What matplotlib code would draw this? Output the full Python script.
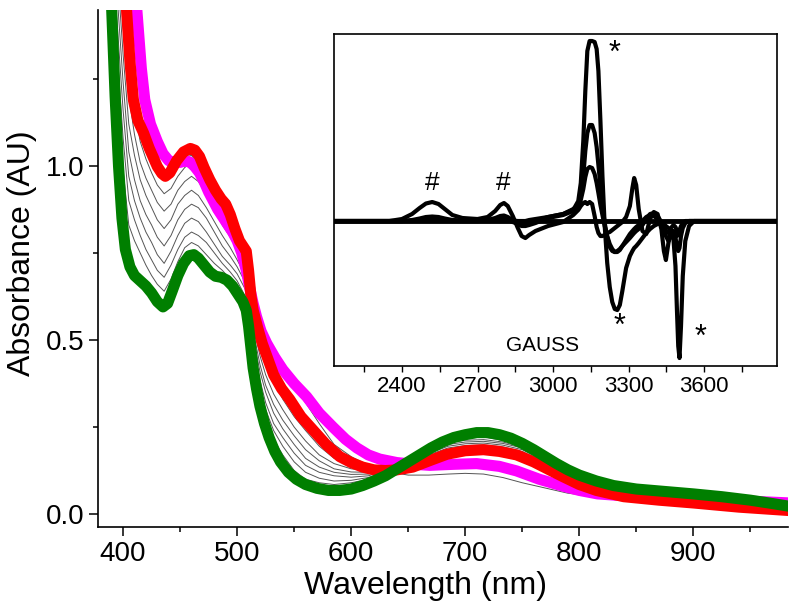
import numpy as np
import matplotlib.pyplot as plt
from matplotlib.ticker import MultipleLocator

plt.rcParams['font.family'] = ['Liberation Sans', 'DejaVu Sans']

# UV-vis spectra (nm, absorbance)
wl_mag = [405, 409, 412, 416, 419, 424, 430, 435, 440, 445, 450, 455, 459, 463, 467, 471, 475, 479, 483, 487,
          491, 496, 500, 504, 508, 511, 514, 517, 521, 526, 533, 540, 550, 561, 572, 584, 595, 605, 615, 625,
          640, 655, 669, 690, 710, 730, 745, 765, 786, 800, 816, 850, 900, 950, 985]
mag = [1.75, 1.55, 1.45, 1.28, 1.19, 1.12, 1.07, 1.035, 1.015, 1.01, 1.01, 1.015, 1.01, 0.997, 0.98, 0.955, 0.925, 0.9, 0.875, 0.855,
       0.835, 0.81, 0.785, 0.75, 0.70, 0.65, 0.605, 0.567, 0.525, 0.49, 0.45, 0.415, 0.375, 0.337, 0.29, 0.25, 0.215, 0.19, 0.17, 0.158,
       0.148, 0.143, 0.14, 0.143, 0.145, 0.137, 0.124, 0.10, 0.08, 0.068, 0.058, 0.05, 0.045, 0.037, 0.032]

wl_red = [395, 399, 403, 406, 409, 413, 418, 423, 430, 434, 437, 441, 447, 453, 459, 463, 467, 471, 476, 481,
          486, 490, 494, 498, 502, 506, 508, 510, 512, 514, 518, 522, 527, 532, 539, 546, 556, 567, 578, 590,
          600, 610, 620, 630, 640, 654, 670, 684, 700, 716, 730, 745, 760, 775, 786, 800, 815, 839, 870, 900, 940, 985]
red = [1.8, 1.6, 1.45, 1.3, 1.19, 1.13, 1.094, 1.05, 0.998, 0.978, 0.97, 0.98, 1.015, 1.04, 1.05, 1.045, 1.027, 0.995, 0.96, 0.93,
       0.905, 0.89, 0.86, 0.82, 0.785, 0.765, 0.755, 0.70, 0.63, 0.586, 0.535, 0.49, 0.445, 0.40, 0.36, 0.33, 0.28, 0.24, 0.20, 0.165,
       0.148, 0.135, 0.127, 0.125, 0.127, 0.135, 0.155, 0.172, 0.182, 0.185, 0.18, 0.17, 0.15, 0.125, 0.107, 0.085, 0.068, 0.05, 0.04, 0.032, 0.02, 0.01]

wl_grn = [385, 388, 390, 393, 396, 399, 402, 406, 410, 415, 420, 425, 430, 435, 439, 443, 448, 453, 458, 462,
          466, 471, 476, 481, 486, 491, 496, 501, 505, 508, 510, 512, 514, 517, 520, 524, 528, 533, 538, 545,
          552, 560, 570, 580, 590, 600, 610, 620, 630, 640, 650, 660, 670, 680, 690, 700, 710, 720, 730, 740,
          750, 760, 770, 780, 790, 800, 815, 830, 850, 875, 900, 925, 950, 970, 985]
grn = [1.8, 1.6, 1.45, 1.2, 1.0, 0.85, 0.76, 0.71, 0.685, 0.67, 0.655, 0.635, 0.61, 0.595, 0.605, 0.64, 0.685, 0.72, 0.742, 0.745,
       0.735, 0.715, 0.695, 0.683, 0.68, 0.672, 0.655, 0.63, 0.61, 0.585, 0.54, 0.48, 0.42, 0.36, 0.31, 0.26, 0.22, 0.18, 0.15, 0.12,
       0.10, 0.085, 0.074, 0.068, 0.068, 0.072, 0.082, 0.095, 0.11, 0.13, 0.15, 0.17, 0.19, 0.207, 0.22, 0.228, 0.234, 0.234, 0.228, 0.218,
       0.203, 0.185, 0.165, 0.145, 0.127, 0.112, 0.095, 0.082, 0.072, 0.065, 0.058, 0.05, 0.04, 0.03, 0.022]

# intermediate spectra (thin grey)
wl_mid = [385, 395, 400, 405, 410, 415, 420, 425, 430, 436, 442, 448, 454, 460, 466, 473, 480, 487, 494, 500,
          504, 508, 511, 515, 520, 525, 532, 540, 550, 560, 572, 585, 600, 615, 632, 650, 668, 685, 700, 716,
          733, 750, 770, 790, 815, 840, 900, 985]
mid0 = [1.9, 1.78, 1.58, 1.38, 1.25, 1.15, 1.09, 1.05, 1.01, 0.985, 0.99, 1.01, 1.025, 1.03, 1.005, 0.96, 0.915, 0.87, 0.83, 0.79,
        0.765, 0.74, 0.68, 0.60, 0.545, 0.50, 0.455, 0.41, 0.365, 0.32, 0.26, 0.20, 0.165, 0.14, 0.122, 0.112, 0.112, 0.115, 0.117, 0.115,
        0.105, 0.09, 0.075, 0.06, 0.05, 0.04, 0.03, 0.01]
mid1 = [1.9, 1.70, 1.48, 1.28, 1.16, 1.07, 1.02, 0.98, 0.945, 0.92, 0.935, 0.97, 0.995, 1.01, 0.99, 0.95, 0.905, 0.86, 0.82, 0.78,
        0.75, 0.72, 0.65, 0.55, 0.48, 0.43, 0.38, 0.33, 0.28, 0.24, 0.195, 0.16, 0.14, 0.13, 0.13, 0.14, 0.16, 0.178, 0.184, 0.186,
        0.18, 0.168, 0.138, 0.105, 0.072, 0.052, 0.038, 0.015]
mid2 = [1.9, 1.64, 1.40, 1.20, 1.09, 1.01, 0.965, 0.93, 0.895, 0.87, 0.89, 0.93, 0.955, 0.97, 0.955, 0.92, 0.875, 0.83, 0.795, 0.76,
        0.73, 0.70, 0.62, 0.53, 0.455, 0.40, 0.345, 0.30, 0.25, 0.21, 0.17, 0.145, 0.13, 0.125, 0.132, 0.145, 0.167, 0.185, 0.19, 0.192,
        0.186, 0.174, 0.143, 0.11, 0.075, 0.054, 0.04, 0.015]
mid3 = [1.85, 1.56, 1.32, 1.12, 1.03, 0.96, 0.915, 0.88, 0.845, 0.82, 0.845, 0.89, 0.915, 0.93, 0.915, 0.88, 0.84, 0.80, 0.765, 0.73,
        0.705, 0.68, 0.60, 0.51, 0.43, 0.37, 0.315, 0.27, 0.225, 0.185, 0.153, 0.13, 0.121, 0.12, 0.13, 0.146, 0.17, 0.19, 0.197, 0.199,
        0.193, 0.18, 0.146, 0.112, 0.078, 0.056, 0.04, 0.015]
mid4 = [1.85, 1.48, 1.24, 1.04, 0.96, 0.90, 0.86, 0.83, 0.795, 0.77, 0.80, 0.845, 0.875, 0.89, 0.88, 0.85, 0.81, 0.77, 0.74, 0.71,
        0.685, 0.66, 0.58, 0.49, 0.41, 0.35, 0.29, 0.245, 0.20, 0.16, 0.135, 0.12, 0.114, 0.115, 0.128, 0.15, 0.174, 0.195, 0.202, 0.204,
        0.198, 0.185, 0.15, 0.115, 0.08, 0.058, 0.042, 0.015]
mid5 = [1.8, 1.40, 1.16, 0.97, 0.90, 0.85, 0.81, 0.78, 0.745, 0.72, 0.755, 0.80, 0.835, 0.85, 0.84, 0.81, 0.775, 0.74, 0.715, 0.69,
        0.665, 0.64, 0.56, 0.47, 0.385, 0.32, 0.26, 0.22, 0.175, 0.14, 0.12, 0.11, 0.106, 0.11, 0.126, 0.15, 0.177, 0.20, 0.207, 0.209,
        0.203, 0.19, 0.155, 0.12, 0.083, 0.06, 0.044, 0.015]
mid6 = [1.8, 1.32, 1.08, 0.90, 0.845, 0.80, 0.76, 0.73, 0.70, 0.68, 0.715, 0.76, 0.795, 0.81, 0.80, 0.78, 0.75, 0.72, 0.695, 0.67,
        0.645, 0.62, 0.54, 0.45, 0.365, 0.30, 0.24, 0.195, 0.15, 0.12, 0.103, 0.095, 0.097, 0.105, 0.124, 0.15, 0.18, 0.205, 0.212, 0.214,
        0.207, 0.193, 0.158, 0.122, 0.086, 0.063, 0.045, 0.015]
mid7 = [1.75, 1.22, 0.99, 0.83, 0.785, 0.75, 0.715, 0.685, 0.66, 0.64, 0.675, 0.725, 0.765, 0.78, 0.77, 0.745, 0.72, 0.70, 0.675, 0.65,
        0.625, 0.60, 0.52, 0.435, 0.345, 0.28, 0.215, 0.17, 0.125, 0.10, 0.09, 0.085, 0.09, 0.10, 0.124, 0.155, 0.185, 0.21, 0.218, 0.221,
        0.212, 0.196, 0.162, 0.126, 0.088, 0.066, 0.047, 0.016]
mids = [mid0, mid1, mid2, mid3, mid4, mid5, mid6, mid7]

# EPR inset (gauss, arbitrary units)
field = [2130, 2350, 2400, 2440, 2470, 2495, 2520, 2545, 2570, 2600, 2640, 2700, 2740, 2770, 2790, 2805, 2820, 2840, 2860, 2875,
         2890, 2905, 2930, 2980, 3040, 3080, 3100, 3110, 3120, 3128, 3136, 3145, 3155, 3165, 3173, 3180, 3188, 3196, 3205, 3215,
         3225, 3235, 3245, 3255, 3265, 3275, 3290, 3305, 3315, 3322, 3330, 3340, 3355, 3370, 3385, 3400, 3415, 3430, 3440, 3448,
         3458, 3468, 3478, 3486, 3492, 3497, 3502, 3508, 3515, 3525, 3540, 3560, 3600, 3900]
epr_a = [0, 0, 0, 0.005, 0.01, 0.015, 0.02, 0.015, 0.01, 0.005, 0, 0, 0.005, 0.01, 0.02, 0.02, 0.015, 0.005, 0, 0,
         0, 0.01, 0.02, 0.04, 0.07, 0.11, 0.2, 0.38, 0.8, 1.3, 1.7, 1.80, 1.80, 1.79, 1.72, 1.5, 1.0, 0.45, -0.05, -0.42,
         -0.66, -0.81, -0.88, -0.89, -0.84, -0.7, -0.47, -0.35, -0.3, -0.27, -0.25, -0.22, -0.17, -0.12, -0.08, -0.05, -0.03, -0.02, -0.03, -0.05,
         -0.07, -0.09, -0.11, -0.14, -0.15, -0.14, -0.11, -0.07, -0.03, -0.01, 0, 0, 0, 0]
epr_b = [0, 0, 0, 0, 0.005, 0.01, 0.01, 0.01, 0.005, 0, 0, 0, 0.005, 0.01, 0.02, 0.02, 0.01, -0.01, -0.03, -0.05,
         -0.05, -0.04, -0.02, 0.03, 0.06, 0.1, 0.15, 0.24, 0.45, 0.7, 0.88, 0.96, 0.96, 0.88, 0.74, 0.56, 0.35, 0.15, -0.02, -0.16,
         -0.26, -0.30, -0.31, -0.30, -0.28, -0.25, -0.21, -0.17, -0.14, -0.12, -0.1, -0.08, -0.04, 0.02, 0.07, 0.08, 0.05, -0.01, -0.07, -0.15,
         -0.2, -0.14, -0.1, -0.16, -0.27, -0.3, -0.27, -0.15, -0.07, -0.02, 0, 0, 0, 0]
epr_c = [0, 0, 0, 0.01, 0.025, 0.04, 0.045, 0.04, 0.025, 0.01, 0.005, 0.005, 0.01, 0.03, 0.05, 0.055, 0.04, 0.01, -0.01, -0.02,
         -0.02, -0.01, 0.0, 0.04, 0.07, 0.12, 0.16, 0.21, 0.32, 0.44, 0.52, 0.54, 0.53, 0.47, 0.38, 0.28, 0.16, 0.06, -0.05, -0.15,
         -0.23, -0.28, -0.31, -0.31, -0.29, -0.25, -0.19, -0.13, -0.1, -0.08, -0.06, -0.04, 0.0, 0.04, 0.06, 0.05, 0.02, -0.02, -0.06, -0.1,
         -0.12, -0.07, -0.04, -0.06, -0.1, -0.11, -0.09, -0.05, -0.02, 0, 0, 0, 0, 0]
epr_d = [0, 0, 0.02, 0.07, 0.13, 0.175, 0.19, 0.17, 0.12, 0.06, 0.03, 0.02, 0.04, 0.1, 0.16, 0.18, 0.15, 0.05, -0.07, -0.15,
         -0.17, -0.14, -0.1, -0.05, -0.01, 0.06, 0.11, 0.15, 0.18, 0.19, 0.17, 0.19, 0.17, 0.05, -0.06, -0.12, -0.15, -0.15, -0.14, -0.12,
         -0.11, -0.09, -0.07, -0.05, -0.03, -0.01, 0.04, 0.15, 0.33, 0.43, 0.36, 0.12, -0.1, -0.13, 0.02, 0.09, 0.07, -0.08, -0.3, -0.39,
         -0.22, -0.1, -0.18, -0.45, -0.9, -1.25, -1.37, -1.05, -0.55, -0.2, -0.05, 0, 0, 0]
field_flat = [2130, 3900]
epr_flat = [0.0, 0.0]

fig = plt.figure(figsize=(8, 6.16), dpi=100)
ax = fig.add_axes([0.1225, 0.1445, 0.8625, 0.8395])

for m in mids:
    ax.plot(wl_mid, m, color='#555555', lw=0.7)
ax.plot(wl_mag, mag, color='#ff00ff', lw=8, solid_capstyle='butt', solid_joinstyle='round')
ax.plot(wl_red, red, color='#ff0000', lw=8, solid_capstyle='butt', solid_joinstyle='round')
ax.plot(wl_grn, grn, color='#007f00', lw=8, solid_capstyle='butt', solid_joinstyle='round')

ax.set_xlim(378, 983)
ax.set_ylim(-0.037, 1.448)
ax.xaxis.set_major_locator(MultipleLocator(100))
ax.xaxis.set_minor_locator(MultipleLocator(50))
ax.yaxis.set_major_locator(MultipleLocator(0.5))
ax.yaxis.set_minor_locator(MultipleLocator(0.25))
ax.yaxis.set_major_formatter(plt.FormatStrFormatter('%.1f'))
ax.spines['top'].set_visible(False)
ax.spines['right'].set_visible(False)
for s in ['left', 'bottom']:
    ax.spines[s].set_linewidth(1.2)
ax.tick_params(which='major', direction='out', length=6.5, width=1.1, labelsize=20)
ax.tick_params(which='minor', direction='out', length=3.5, width=1.1)
ax.set_xlabel('Wavelength (nm)', fontsize=23, labelpad=2)
ax.set_ylabel('Absorbance (AU)', fontsize=23, labelpad=6)
ax.xaxis.set_label_coords(0.474, -0.085)
ax.yaxis.set_label_coords(-0.088, 0.53)

# inset
ins = fig.add_axes([0.4175, 0.4058, 0.554, 0.539])
for y in [epr_a, epr_b, epr_c, epr_d]:
    ins.plot(field, y, color='black', lw=3, solid_joinstyle='round')
ins.plot(field_flat, epr_flat, color='black', lw=3.5)
ins.set_xlim(2130, 3890)
ins.set_ylim(-1.45, 1.87)
ins.set_yticks([])
ins.xaxis.set_major_locator(MultipleLocator(300))
ins.xaxis.set_minor_locator(MultipleLocator(150))
ins.tick_params(which='major', direction='out', length=4, width=1, labelsize=16)
ins.tick_params(which='minor', direction='out', length=4, width=1)
for s in ins.spines.values():
    s.set_linewidth(1.2)
ins.text(2520, 0.38, '#', fontsize=19, ha='center', va='center')
ins.text(2800, 0.38, '#', fontsize=19, ha='center', va='center')
ins.text(3245, 1.67, '*', fontsize=22, ha='center', va='center')
ins.text(3262, -1.06, '*', fontsize=22, ha='center', va='center')
ins.text(3585, -1.17, '*', fontsize=22, ha='center', va='center')
ins.text(2960, -1.24, 'GAUSS', fontsize=15, ha='center', va='center')

fig.savefig('out.png', dpi=100)
